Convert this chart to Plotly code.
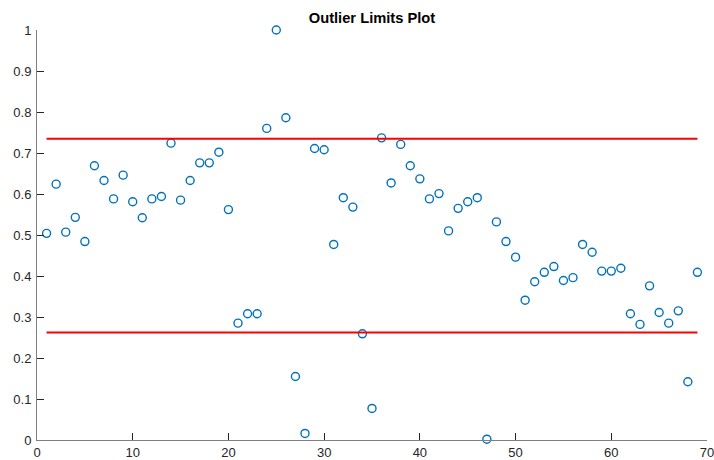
import plotly.graph_objects as go

x_idx = list(range(1, 70))
values = [
    0.504, 0.624, 0.507, 0.543, 0.484, 0.669, 0.633, 0.588, 0.646, 0.581,
    0.542, 0.588, 0.594, 0.724, 0.585, 0.633, 0.676, 0.676, 0.702, 0.562,
    0.285, 0.308, 0.308, 0.760, 1.000, 0.786, 0.155, 0.016, 0.711, 0.708,
    0.477, 0.591, 0.568, 0.259, 0.077, 0.737, 0.627, 0.721, 0.669, 0.637,
    0.588, 0.601, 0.510, 0.565, 0.581, 0.591, 0.002, 0.532, 0.484, 0.446,
    0.341, 0.386, 0.409, 0.423, 0.389, 0.396, 0.477, 0.458, 0.412, 0.412,
    0.419, 0.308, 0.282, 0.376, 0.311, 0.285, 0.315, 0.142, 0.409,
]
upper_limit = 0.735
lower_limit = 0.262
limit_x = [1, 69]
x_ticks = [0, 10, 20, 30, 40, 50, 60, 70]
y_ticks = [0, 0.1, 0.2, 0.3, 0.4, 0.5, 0.6, 0.7, 0.8, 0.9, 1]

fig = go.Figure()
fig.add_trace(go.Scatter(
    x=x_idx, y=values, mode="markers",
    marker=dict(symbol="circle-open", size=8, color="#0072BD", line=dict(width=1.4, color="#0072BD")),
    showlegend=False, cliponaxis=False,
))
for lim in (upper_limit, lower_limit):
    fig.add_trace(go.Scatter(
        x=limit_x, y=[lim, lim], mode="lines",
        line=dict(color="#FF0000", width=2), showlegend=False,
    ))

axis_common = dict(
    showgrid=False, zeroline=False, showline=True, linecolor="#808080", linewidth=1,
    ticks="inside", ticklen=7, tickcolor="#262626", tickwidth=1, automargin=False,
    ticklabeloverflow="allow",
    tickfont=dict(family="Liberation Sans, Arial, sans-serif", size=13, color="#262626"),
)
fig.update_xaxes(range=[0, 70], tickvals=x_ticks, **axis_common)
fig.update_yaxes(range=[0, 1], tickvals=y_ticks, ticklabelstandoff=2, **axis_common)

fig.update_layout(
    width=714, height=460,
    margin=dict(l=37, r=7, t=30, b=20),
    plot_bgcolor="white", paper_bgcolor="white",
    title=dict(text="<b>Outlier Limits Plot</b>", x=0.5, xref="paper", y=1 - 18 / 460,
               yref="container", yanchor="middle", xanchor="center",
               font=dict(family="Liberation Sans, Arial, sans-serif", size=14.7, color="#000000")),
)
# remove the default page margin so the figure fills the 714x460 window exactly
fig.write_html(
    "out.html",
    config={"displayModeBar": False},
    post_script="document.body.style.margin='0px';document.documentElement.style.overflow='hidden';",
)
